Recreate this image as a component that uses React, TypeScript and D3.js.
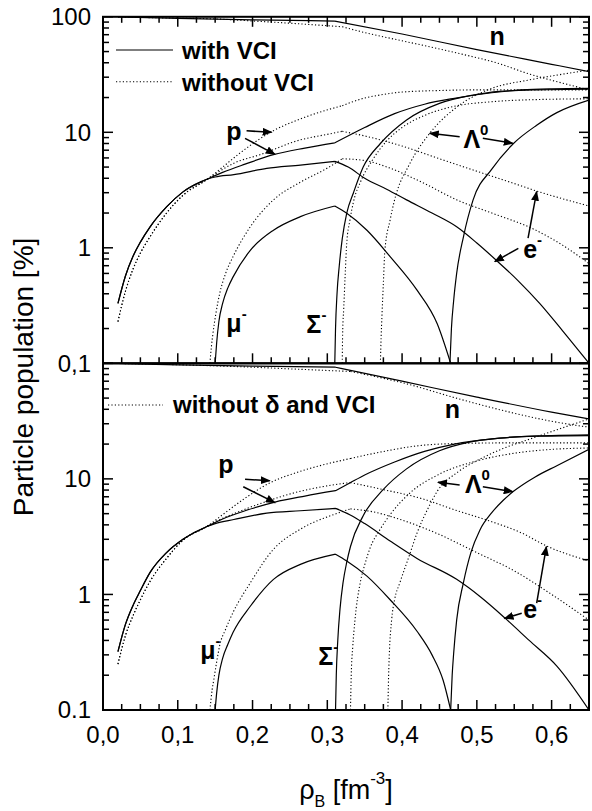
import React from "react";
import * as d3 from "d3";

type Pt = [number, number];

// baryon density [fm^-3] vs particle population [%]
const X_TICKS = [0, 0.1, 0.2, 0.3, 0.4, 0.5, 0.6];
const X_TICK_LABELS = ["0,0", "0,1", "0,2", "0,3", "0,4", "0,5", "0,6"];
const TOP_Y_TICKS: [string, number][] = [["100", 100], ["10", 10], ["1", 1], ["0,1", 0.1]];
const BOT_Y_TICKS: [string, number][] = [["10", 10], ["1", 1], ["0.1", 0.1]];

// ---------- upper panel: with VCI (solid) ----------
const lowSolidTop: Pt[] = [[0.02, 0.33], [0.03, 0.57], [0.04, 0.84], [0.05, 1.12], [0.063, 1.52], [0.085, 2.26], [0.107, 3.05], [0.139, 3.92]];
const nSolidTop: Pt[][] = [[[0.02, 99.7], [0.1, 97], [0.2, 94.2], [0.31, 91.9]], [[0.31, 91.9], [0.4, 71], [0.5, 52], [0.6, 38.8], [0.65, 33.5]]];
const pSolidTop: Pt[][] = [[...lowSolidTop, [0.16, 4.5], [0.19, 5.3], [0.228, 6.4], [0.27, 7.3], [0.31, 8.1]], [[0.31, 8.1], [0.35, 11], [0.39, 14.5], [0.43, 17.5], [0.47, 19.7], [0.52, 22], [0.56, 23.3], [0.6, 23.8], [0.65, 24]]];
const eSolidTop: Pt[][] = [[...lowSolidTop, [0.15, 4.1], [0.175, 4.3], [0.219, 4.87], [0.264, 5.2], [0.31, 5.6]], [[0.31, 5.6], [0.328, 5.0], [0.35, 4.0], [0.38, 3.2], [0.406, 2.6], [0.44, 2.0], [0.473, 1.52], [0.5, 1.1], [0.526, 0.78], [0.555, 0.52], [0.584, 0.33], [0.615, 0.19], [0.65, 0.1]]];
const muSolidTop: Pt[][] = [[[0.15, 0.1], [0.152, 0.15], [0.155, 0.23], [0.16, 0.33], [0.167, 0.45], [0.174, 0.56], [0.197, 0.95], [0.228, 1.42], [0.264, 1.86], [0.31, 2.3]], [[0.31, 2.3], [0.326, 1.99], [0.353, 1.42], [0.384, 0.84], [0.42, 0.43], [0.447, 0.22], [0.465, 0.1]]];
const sigmaSolidTop: Pt[][] = [[[0.31, 0.1], [0.311, 0.2], [0.313, 0.4], [0.316, 0.7], [0.32, 1.2], [0.326, 2.0], [0.335, 3.0], [0.348, 5.0], [0.371, 8.0], [0.406, 12.8], [0.45, 17.8], [0.495, 21], [0.53, 22.6], [0.58, 23.3], [0.65, 23.6]]];
const lambdaSolidTop: Pt[][] = [[[0.464, 0.1], [0.466, 0.2], [0.469, 0.35], [0.473, 0.6], [0.482, 1.24], [0.495, 2.6], [0.52, 4.8], [0.549, 8], [0.58, 11.5], [0.607, 14.8], [0.65, 19]]];

// ---------- upper panel: without VCI (dotted) ----------
const lowDotTop: Pt[] = [[0.02, 0.23], [0.03, 0.42], [0.04, 0.65], [0.05, 0.9], [0.063, 1.25], [0.085, 2.0], [0.107, 2.85], [0.139, 3.9]];
const nDotTop: Pt[][] = [[[0.02, 99.7], [0.1, 97.3], [0.15, 96], [0.2, 92], [0.25, 88], [0.32, 82]], [[0.32, 82], [0.35, 73], [0.4, 62], [0.437, 55], [0.48, 47.5], [0.526, 40], [0.57, 32], [0.615, 26.6], [0.65, 23.3]]];
const pDotTop: Pt[][] = [[...lowDotTop, [0.16, 5.0], [0.183, 6.6], [0.224, 10], [0.27, 13.5], [0.32, 17]], [[0.32, 17], [0.35, 19.8], [0.37, 21], [0.4, 22.3], [0.45, 23], [0.5, 23.3], [0.65, 23.3]]];
const eDotTop: Pt[][] = [[...lowDotTop, [0.15, 4.35], [0.175, 5.4], [0.21, 6.4], [0.264, 8.6], [0.3, 9.6], [0.32, 10.2]], [[0.32, 10.2], [0.35, 9.3], [0.4, 7.6], [0.45, 5.9], [0.5, 4.6], [0.55, 3.6], [0.58, 3.1], [0.62, 2.6], [0.65, 2.3]]];
const muDotTop: Pt[][] = [[[0.143, 0.1], [0.145, 0.14], [0.147, 0.18], [0.151, 0.27], [0.156, 0.4], [0.164, 0.6], [0.174, 0.84], [0.197, 1.52], [0.228, 2.6], [0.264, 3.7], [0.3, 4.9], [0.32, 5.9]], [[0.32, 5.9], [0.35, 5.7], [0.38, 5.0], [0.43, 3.6], [0.473, 2.6], [0.52, 2.0], [0.576, 1.45], [0.615, 1.05], [0.65, 0.73]]];
const sigmaDotTop: Pt[][] = [[[0.32, 0.1], [0.3205, 0.18], [0.322, 0.3], [0.324, 0.6], [0.326, 1.1], [0.33, 1.7], [0.335, 2.5], [0.345, 3.8], [0.36, 5.7], [0.38, 8.5], [0.4, 11], [0.43, 14], [0.47, 16.8], [0.52, 18.4], [0.58, 19.2], [0.65, 19.5]]];
const lambdaDotTop: Pt[][] = [[[0.371, 0.1], [0.372, 0.17], [0.373, 0.25], [0.375, 0.5], [0.377, 0.95], [0.384, 1.74], [0.39, 2.6], [0.41, 5.3], [0.437, 9.8], [0.473, 16.5], [0.52, 24], [0.57, 28.4], [0.61, 31.5], [0.65, 34.5]]];

// ---------- lower panel: with VCI (solid) ----------
const lowSolidBot: Pt[] = [[0.02, 0.32], [0.03, 0.55], [0.04, 0.8], [0.05, 1.08], [0.063, 1.55], [0.085, 2.3], [0.107, 3.0], [0.139, 3.87]];
const nSolidBot: Pt[][] = [[[0.02, 99.7], [0.1, 97], [0.2, 94.5], [0.311, 92.5]], [[0.311, 92.5], [0.4, 70], [0.5, 51], [0.6, 37.8], [0.65, 33]]];
const pSolidBot: Pt[][] = [[...lowSolidBot, [0.16, 4.5], [0.19, 5.3], [0.23, 6.3], [0.27, 7.1], [0.311, 7.9]], [[0.311, 7.9], [0.33, 9.2], [0.35, 10.8], [0.39, 14], [0.43, 17.3], [0.47, 20], [0.52, 22.2], [0.56, 23.2], [0.6, 23.7], [0.65, 24]]];
const eSolidBot: Pt[][] = [[...lowSolidBot, [0.15, 4.1], [0.175, 4.45], [0.219, 5.05], [0.264, 5.3], [0.311, 5.55]], [[0.311, 5.55], [0.33, 4.9], [0.35, 4.1], [0.384, 2.9], [0.42, 2.05], [0.473, 1.35], [0.505, 0.95], [0.537, 0.63], [0.57, 0.4], [0.607, 0.24], [0.65, 0.1]]];
const muSolidBot: Pt[][] = [[[0.15, 0.1], [0.152, 0.14], [0.155, 0.2], [0.16, 0.28], [0.167, 0.37], [0.174, 0.47], [0.197, 0.79], [0.228, 1.35], [0.264, 1.82], [0.311, 2.23]], [[0.311, 2.23], [0.326, 1.95], [0.353, 1.44], [0.384, 0.9], [0.42, 0.48], [0.44, 0.3], [0.455, 0.18], [0.465, 0.1]]];
const sigmaSolidBot: Pt[][] = [[[0.311, 0.1], [0.312, 0.2], [0.314, 0.4], [0.317, 0.75], [0.321, 1.26], [0.326, 1.9], [0.331, 2.6], [0.348, 4.8], [0.375, 8.1], [0.406, 12.2], [0.45, 17.5], [0.49, 20.8], [0.53, 22.5], [0.58, 23.4], [0.65, 23.7]]];
const lambdaSolidBot: Pt[][] = [[[0.465, 0.1], [0.467, 0.2], [0.469, 0.31], [0.473, 0.6], [0.482, 1.26], [0.492, 2.3], [0.504, 3.6], [0.52, 5.1], [0.535, 6.5], [0.549, 7.8], [0.578, 10.4], [0.607, 13], [0.65, 18]]];

// ---------- lower panel: without delta and VCI (dotted) ----------
const lowDotBot: Pt[] = [[0.02, 0.25], [0.03, 0.44], [0.04, 0.65], [0.05, 0.9], [0.063, 1.3], [0.085, 2.05], [0.107, 2.95], [0.139, 3.87]];
const nDotBot: Pt[][] = [[[0.02, 99.7], [0.1, 97.2], [0.2, 92.5], [0.25, 89.5], [0.331, 85]], [[0.331, 85], [0.4, 68], [0.482, 48], [0.55, 37], [0.6, 31.5], [0.65, 28]]];
const pDotBot: Pt[][] = [[...lowDotBot, [0.16, 4.9], [0.19, 6.8], [0.224, 9.3], [0.26, 11.4], [0.304, 13.7], [0.331, 15]], [[0.331, 15], [0.36, 16.5], [0.38, 17.5], [0.42, 19.3], [0.47, 20.2], [0.55, 20.5], [0.65, 20.5]]];
const eDotBot: Pt[][] = [[...lowDotBot, [0.15, 4.25], [0.175, 5.0], [0.21, 6.1], [0.26, 7.7], [0.3, 8.7], [0.331, 9.3]], [[0.331, 9.3], [0.37, 8.2], [0.428, 6.7], [0.47, 5.4], [0.518, 4.3], [0.56, 3.4], [0.593, 2.63], [0.65, 1.95]]];
const muDotBot: Pt[][] = [[[0.143, 0.1], [0.146, 0.15], [0.148, 0.18], [0.152, 0.26], [0.156, 0.36], [0.164, 0.5], [0.174, 0.7], [0.197, 1.26], [0.228, 2.46], [0.264, 3.67], [0.31, 4.95], [0.331, 5.5]], [[0.331, 5.5], [0.36, 5.2], [0.4, 4.4], [0.45, 3.3], [0.5, 2.3], [0.55, 1.6], [0.6, 1.0], [0.65, 0.6]]];
const sigmaDotBot: Pt[][] = [[[0.331, 0.1], [0.332, 0.2], [0.334, 0.35], [0.337, 0.6], [0.344, 1.26], [0.35, 1.8], [0.357, 2.5], [0.37, 3.6], [0.385, 5.0], [0.41, 7.5], [0.45, 11], [0.5, 14.3], [0.56, 17], [0.6, 18], [0.65, 18.5]]];
const lambdaDotBot: Pt[][] = [[[0.381, 0.1], [0.382, 0.2], [0.383, 0.31], [0.386, 0.6], [0.39, 0.9], [0.397, 1.26], [0.41, 2.2], [0.42, 3.4], [0.435, 5.6], [0.447, 7.8], [0.475, 11.5], [0.504, 14.8], [0.535, 18.3], [0.57, 22], [0.61, 27], [0.65, 33]]];

const TOP_SOLID = [nSolidTop, pSolidTop, eSolidTop, muSolidTop, sigmaSolidTop, lambdaSolidTop];
const TOP_DOTTED = [nDotTop, pDotTop, eDotTop, muDotTop, sigmaDotTop, lambdaDotTop];
const BOT_SOLID = [nSolidBot, pSolidBot, eSolidBot, muSolidBot, sigmaSolidBot, lambdaSolidBot];
const BOT_DOTTED = [nDotBot, pDotBot, eDotBot, muDotBot, sigmaDotBot, lambdaDotBot];

// curve labels (left edge density, baseline population)
type Lbl = { t: string; sup?: string; v: number; p: number };
const TOP_LABELS: Lbl[] = [
  { t: "n", v: 0.517, p: 57 },
  { t: "p", v: 0.165, p: 8.6 },
  { t: "Λ", sup: "0", v: 0.482, p: 7.3 },
  { t: "e", sup: "-", v: 0.562, p: 0.82 },
  { t: "μ", sup: "-", v: 0.165, p: 0.186 },
  { t: "Σ", sup: "-", v: 0.272, p: 0.182 },
];
const BOT_LABELS: Lbl[] = [
  { t: "n", v: 0.457, p: 33.4 },
  { t: "p", v: 0.154, p: 11.2 },
  { t: "Λ", sup: "0", v: 0.484, p: 7.5 },
  { t: "e", sup: "-", v: 0.562, p: 0.62 },
  { t: "μ", sup: "-", v: 0.13, p: 0.276 },
  { t: "Σ", sup: "-", v: 0.288, p: 0.245 },
];
// arrows: [v0, p0, v1, p1], head at (v1, p1)
const TOP_ARROWS = [[0.192, 10.3, 0.2255, 10.0], [0.19, 8.87, 0.23, 6.45], [0.477, 9.16, 0.437, 9.8], [0.508, 8.87, 0.548, 8.03], [0.5685, 1.21, 0.58, 3.06], [0.5555, 0.99, 0.524, 0.76]];
const BOT_ARROWS = [[0.19, 9.9, 0.223, 9.64], [0.1876, 8.55, 0.23, 6.22], [0.477, 8.85, 0.448, 9.33], [0.508, 8.55, 0.548, 7.75], [0.58, 0.84, 0.593, 2.59], [0.56, 0.687, 0.537, 0.62]];

const W = 592;
const H = 811;
const FONT = "'Liberation Sans', Arial, Helvetica, sans-serif";
const L = 103, R = 589, TOP = 16.8, MID = 363.3, BOT = 710;

const x = d3.scaleLinear().domain([0, 0.65]).range([L, R]);
const yTop = d3.scaleLog().domain([0.1, 100]).range([MID, TOP]);
const yBot = d3.scaleLog().domain([0.1, 100]).range([BOT, MID]);

const isDecade = (t: number) => Math.abs(Math.log10(t) - Math.round(Math.log10(t))) < 1e-6;
const xMinor = d3.range(0, 0.6501, 0.025);
const isMajorX = (t: number) => Math.abs(t * 10 - Math.round(t * 10)) < 1e-6;

function segPath(segs: Pt[][], y: d3.ScaleLogarithmic<number, number>) {
  const line = d3.line<Pt>().x(d => x(d[0])).y(d => y(d[1])).curve(d3.curveMonotoneX);
  return segs.map(s => line(s) || "").join("");
}

function Panel({ y, solid, dotted, labels, arrows, clipId, topTicks }: {
  y: d3.ScaleLogarithmic<number, number>; solid: Pt[][][]; dotted: Pt[][][]; labels: Lbl[];
  arrows: number[][]; clipId: string; topTicks: boolean;
}) {
  const [y0, y1] = y.range(); // bottom, top
  const yt = y.ticks();
  return (
    <g>
      <defs>
        <clipPath id={clipId}>
          <rect x={L} y={y1} width={R - L} height={y0 - y1} />
        </clipPath>
      </defs>
      <g clipPath={`url(#${clipId})`} fill="none" stroke="#000">
        {dotted.map((s, i) => (
          <path key={"d" + i} d={segPath(s, y)} strokeWidth={1.1} strokeDasharray="1.2 2.2" />
        ))}
        {solid.map((s, i) => (
          <path key={"s" + i} d={segPath(s, y)} strokeWidth={1.2} strokeLinejoin="round" />
        ))}
      </g>
      {/* ticks */}
      <g stroke="#000" strokeWidth={1.5}>
        {yt.map((t, i) => {
          const len = isDecade(t) ? 10 : 6;
          return (
            <g key={"yt" + i}>
              <line x1={L} x2={L + len} y1={y(t)} y2={y(t)} />
              <line x1={R} x2={R - len} y1={y(t)} y2={y(t)} />
            </g>
          );
        })}
        {xMinor.map((t, i) => {
          const len = isMajorX(t) ? 10 : 6;
          return (
            <g key={"xt" + i}>
              <line x1={x(t)} x2={x(t)} y1={y0} y2={y0 - len} />
              {topTicks && <line x1={x(t)} x2={x(t)} y1={y1} y2={y1 + len} />}
            </g>
          );
        })}
      </g>
      <rect x={L} y={y1} width={R - L} height={y0 - y1} fill="none" stroke="#000" strokeWidth={2} />
      {/* annotations */}
      <g fontFamily={FONT} fontWeight="bold" fontSize={25}>
        {labels.map((l, i) => (
          <text key={"l" + i} x={x(l.v)} y={y(l.p)}>
            {l.t}
            {l.sup && <tspan fontSize={15} dy={-13}>{l.sup}</tspan>}
          </text>
        ))}
      </g>
      <g stroke="#000" strokeWidth={1.5}>
        {arrows.map((a, i) => (
          <line key={"a" + i} x1={x(a[0])} y1={y(a[1])} x2={x(a[2])} y2={y(a[3])} markerEnd="url(#arrowHead)" />
        ))}
      </g>
    </g>
  );
}

export default function App() {
  return (
    <svg width={W} height={H} style={{ position: "absolute", left: 0, top: 0, background: "#fff" }}>
      <defs>
        <marker id="arrowHead" markerUnits="userSpaceOnUse" markerWidth={10} markerHeight={8} refX={9} refY={4} orient="auto">
          <path d="M0,0 L10,4 L0,8 z" fill="#000" />
        </marker>
      </defs>
      <rect width={W} height={H} fill="#fff" />
      <Panel y={yTop} solid={TOP_SOLID} dotted={TOP_DOTTED} labels={TOP_LABELS} arrows={TOP_ARROWS} clipId="clipTop" topTicks={true} />
      <Panel y={yBot} solid={BOT_SOLID} dotted={BOT_DOTTED} labels={BOT_LABELS} arrows={BOT_ARROWS} clipId="clipBot" topTicks={false} />

      {/* legends */}
      <g fontFamily={FONT} fontWeight="bold" fontSize={24}>
        <line x1={116} x2={173} y1={50} y2={50} stroke="#000" strokeWidth={1.2} />
        <text x={182} y={59}>with VCI</text>
        <line x1={116} x2={173} y1={81.7} y2={81.7} stroke="#000" strokeWidth={1.1} strokeDasharray="1.2 2.2" />
        <text x={182} y={91}>without VCI</text>
        <line x1={108} x2={163} y1={405} y2={405} stroke="#000" strokeWidth={1.1} strokeDasharray="1.2 2.2" />
        <text x={173} y={413}>without δ and VCI</text>
      </g>

      {/* tick labels */}
      <g fontFamily={FONT} fontSize={24} fill="#000">
        {TOP_Y_TICKS.map(([s, v]) => (
          <text key={"ty" + s} x={91} y={yTop(v)} textAnchor="end" dy="0.35em">{s}</text>
        ))}
        {BOT_Y_TICKS.map(([s, v]) => (
          <text key={"by" + s} x={91} y={yBot(v)} textAnchor="end" dy="0.35em">{s}</text>
        ))}
        {X_TICKS.map((t, i) => (
          <text key={"xl" + i} x={x(t)} y={743} textAnchor="middle">{X_TICK_LABELS[i]}</text>
        ))}
      </g>

      {/* axis titles */}
      <text fontFamily={FONT} fontSize={28} textAnchor="middle" transform="translate(33,377) rotate(-90)">
        Particle population [%]
      </text>
      <text fontFamily={FONT} fontSize={27} x={(L + R) / 2} y={799} textAnchor="middle">
        ρ<tspan fontSize={16} dy={8}>B</tspan>
        <tspan dy={-8}> [fm</tspan>
        <tspan fontSize={17} dy={-15}>-3</tspan>
        <tspan dy={15}>]</tspan>
      </text>
    </svg>
  );
}
